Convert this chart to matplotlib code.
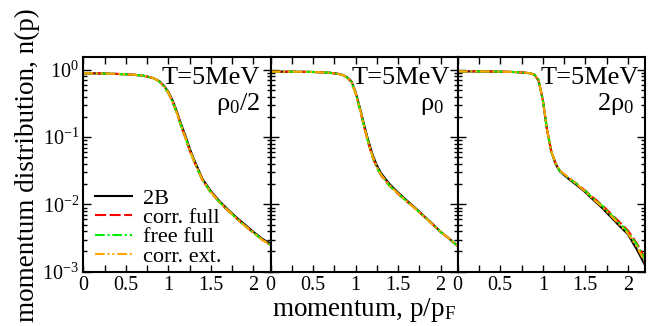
import matplotlib
matplotlib.use('Agg')
import matplotlib.pyplot as plt
from matplotlib.ticker import FixedLocator, LogLocator, MultipleLocator, NullFormatter

plt.rcParams['font.family'] = ['Liberation Serif', 'DejaVu Serif']
plt.rcParams['mathtext.fontset'] = 'custom'
plt.rcParams['mathtext.rm'] = 'Liberation Serif'
plt.rcParams['mathtext.it'] = 'Liberation Serif:italic'
plt.rcParams['mathtext.bf'] = 'Liberation Serif:bold'
plt.rcParams['lines.scale_dashes'] = False

# ---------------- data ----------------
p = [0, 0.2, 0.4, 0.5, 0.6, 0.7, 0.8, 0.85, 0.9, 0.95, 1.0, 1.05, 1.1, 1.15,
     1.2, 1.25, 1.3, 1.4, 1.5, 1.6, 1.7, 1.8, 1.9, 2.0, 2.1, 2.2]

# rho0/2
half_2B    = [0.89, 0.885, 0.87, 0.86, 0.845, 0.82, 0.77, 0.73, 0.67, 0.58, 0.47, 0.35, 0.24, 0.155,
              0.105, 0.068, 0.047, 0.024, 0.0157, 0.0112, 0.0084, 0.0064, 0.0050, 0.0039, 0.0031, 0.0026]
half_corr  = [0.89, 0.885, 0.87, 0.86, 0.845, 0.82, 0.77, 0.725, 0.66, 0.565, 0.45, 0.33, 0.225, 0.145,
              0.097, 0.063, 0.044, 0.0228, 0.0150, 0.0108, 0.0081, 0.0062, 0.0048, 0.0038, 0.0030, 0.0025]
half_free  = [0.89, 0.885, 0.87, 0.86, 0.845, 0.82, 0.77, 0.725, 0.66, 0.567, 0.452, 0.332, 0.227, 0.146,
              0.098, 0.064, 0.0445, 0.023, 0.0151, 0.0108, 0.0081, 0.0062, 0.0048, 0.0038, 0.0030, 0.0025]
half_ext   = [0.89, 0.885, 0.87, 0.86, 0.845, 0.82, 0.77, 0.727, 0.663, 0.57, 0.456, 0.336, 0.23, 0.148,
              0.099, 0.065, 0.045, 0.0232, 0.0152, 0.0109, 0.0082, 0.0062, 0.0048, 0.0038, 0.0030, 0.0025]

# rho0
one_2B     = [0.94, 0.94, 0.935, 0.93, 0.92, 0.905, 0.87, 0.84, 0.78, 0.68, 0.47, 0.275, 0.153, 0.088,
              0.055, 0.038, 0.029, 0.020, 0.0150, 0.0115, 0.0089, 0.0068, 0.0052, 0.0039, 0.0031, 0.0024]
one_corr   = [0.94, 0.94, 0.935, 0.93, 0.92, 0.905, 0.87, 0.835, 0.77, 0.66, 0.45, 0.26, 0.142, 0.081,
              0.050, 0.035, 0.027, 0.0188, 0.0143, 0.0111, 0.0087, 0.0067, 0.0051, 0.0039, 0.0031, 0.0024]
one_free   = [0.94, 0.94, 0.935, 0.93, 0.92, 0.905, 0.87, 0.835, 0.772, 0.665, 0.455, 0.263, 0.144, 0.082,
              0.051, 0.0355, 0.0273, 0.019, 0.0144, 0.0112, 0.0087, 0.0067, 0.0051, 0.0039, 0.0031, 0.0024]
one_ext    = [0.94, 0.94, 0.935, 0.93, 0.92, 0.905, 0.87, 0.836, 0.774, 0.668, 0.458, 0.266, 0.146, 0.083,
              0.052, 0.036, 0.0276, 0.0192, 0.0145, 0.0112, 0.0087, 0.0067, 0.0051, 0.0039, 0.0031, 0.0024]

# 2 rho0
two_2B     = [0.95, 0.95, 0.945, 0.94, 0.935, 0.925, 0.905, 0.89, 0.85, 0.70, 0.36, 0.128, 0.061, 0.040,
              0.031, 0.0274, 0.0242, 0.0193, 0.0152, 0.0115, 0.0088, 0.0065, 0.0048, 0.0036, 0.0022, 0.00126]
two_corr   = [0.95, 0.95, 0.945, 0.94, 0.935, 0.925, 0.905, 0.89, 0.85, 0.70, 0.36, 0.13, 0.062, 0.041,
              0.0318, 0.0282, 0.025, 0.0202, 0.0160, 0.0124, 0.0097, 0.0073, 0.0055, 0.0041, 0.0027, 0.0016]
two_free   = [0.95, 0.95, 0.945, 0.94, 0.935, 0.925, 0.905, 0.89, 0.85, 0.70, 0.36, 0.129, 0.0615, 0.0405,
              0.0315, 0.028, 0.0248, 0.020, 0.0158, 0.0121, 0.0095, 0.0071, 0.0053, 0.0039, 0.0026, 0.00155]
two_ext    = [0.95, 0.95, 0.945, 0.94, 0.935, 0.925, 0.905, 0.89, 0.85, 0.70, 0.36, 0.129, 0.0615, 0.041,
              0.0318, 0.0284, 0.0252, 0.0199, 0.0155, 0.0118, 0.0091, 0.0068, 0.0050, 0.0037, 0.0024, 0.0014]

series_labels = ['2B', 'corr. full', 'free full', 'corr. ext.']
panel_data = [
    [half_2B, half_corr, half_free, half_ext],
    [one_2B, one_corr, one_free, one_ext],
    [two_2B, two_corr, two_free, two_ext],
]
temp_label = 'T=5MeV'
density_labels = ['ρ$_0$/2', 'ρ$_0$', '2ρ$_0$']

xtick_values = [0, 0.5, 1, 1.5, 2]
xtick_labels = ['0', '0.5', '1', '1.5', '2']
ytick_values = [1e-3, 1e-2, 1e-1, 1e0]
ytick_labels = [r'$\mathregular{10^{-3}}$', r'$\mathregular{10^{-2}}$',
                r'$\mathregular{10^{-1}}$', r'$\mathregular{10^{0}}$']

# ---------------- styles ----------------
styles = [
    dict(color='black', lw=1.5, ls='-'),
    dict(color='#ff0000', lw=1.5, dashes=(8, 2.5)),
    dict(color='#00ee00', lw=1.5, dashes=(7, 2, 1.5, 2)),
    dict(color='#ffa500', lw=1.5, dashes=(7, 2, 1.5, 2, 1.5, 2)),
]

W, H = 652, 326
fig = plt.figure(figsize=(W / 100, H / 100), dpi=100)
ax_left, ax_w = 83.3, 187.2
ax_top, ax_bot = 56.7, 271.7

T_right = [260, 450, 639]
D_right = [260, 444, 634]

for i in range(3):
    ax = fig.add_axes([(ax_left + i * ax_w) / W, 1 - ax_bot / H,
                       ax_w / W, (ax_bot - ax_top) / H])
    for series, lab, st in zip(panel_data[i], series_labels, styles):
        ax.plot(p, series, label=lab, **st)
    ax.set_yscale('log')
    ax.set_xlim(0, 2.2)
    ax.set_ylim(1e-3, 1.57)
    ax.xaxis.set_major_locator(FixedLocator(xtick_values))
    ax.xaxis.set_minor_locator(MultipleLocator(0.25))
    ax.yaxis.set_major_locator(FixedLocator(ytick_values))
    ax.yaxis.set_minor_locator(LogLocator(base=10, subs=range(2, 10), numticks=20))
    ax.yaxis.set_minor_formatter(NullFormatter())
    ax.set_xticklabels(xtick_labels)
    if i == 0:
        ax.set_yticklabels(ytick_labels)
    else:
        ax.set_yticklabels([])
    ax.tick_params(which='both', direction='in', top=True, right=True, width=1.0)
    ax.tick_params(axis='x', which='both', length=5, labelsize=14.5, pad=3)
    ax.tick_params(axis='y', which='major', length=6, labelsize=14.5, pad=3)
    ax.tick_params(axis='y', which='minor', length=3.2)
    for sp in ax.spines.values():
        sp.set_linewidth(1.5)

    fig.text(T_right[i] / W, 1 - 84 / H, temp_label, ha='right', va='baseline', fontsize=19)
    fig.text(D_right[i] / W, 1 - 110 / H, density_labels[i], ha='right', va='baseline', fontsize=19)

    if i == 0:
        ax.legend(loc='upper left', bbox_to_anchor=((95 - ax_left) / ax_w, (ax_bot - 188) / (ax_bot - ax_top)),
                  frameon=False, fontsize=16, handlelength=1.67, handletextpad=0.5,
                  labelspacing=-0.05, borderpad=0, borderaxespad=0)

fig.text(27 / W, 1 - 165 / H, 'momentum distribution, n(p)', rotation=90,
         ha='center', va='center', fontsize=19.5)
fig.text(364 / W, 1 - 316 / H, 'momentum, p/p$_\\mathregular{F}$', ha='center', va='baseline', fontsize=19.5)

fig.savefig('out.png', dpi=100)
